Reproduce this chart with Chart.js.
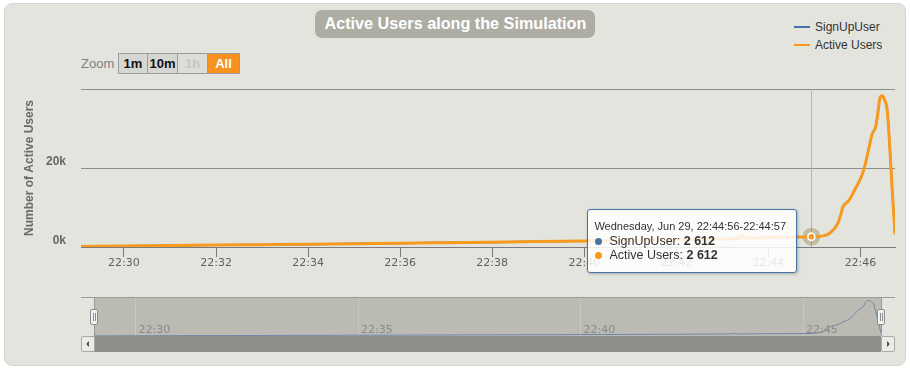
<!DOCTYPE html>
<html>
<head>
<meta charset="utf-8">
<title>Active Users along the Simulation</title>
<script src="https://cdn.jsdelivr.net/npm/chart.js@4.4.1/dist/chart.umd.min.js"></script>
<style>
  body { margin:0; width:910px; height:371px; overflow:hidden; background:#fff; font-family:"Liberation Sans", Arial, sans-serif; }
  #frame { position:absolute; left:4px; top:3px; width:900px; height:361px; background:#e4e4de; border:1px solid #d6d6d0; border-radius:8px; }
  #title { position:absolute; left:315px; top:10px; width:280px; height:28px; line-height:28px; background:#adada4; border-radius:7px;
           color:#fff; text-align:center; white-space:nowrap; overflow:hidden; }
  #title span { display:inline-block; font-family:"Liberation Sans", Arial, sans-serif; font-weight:bold; font-size:17px; transform-origin:50% 50%; }
  .leg { position:absolute; left:794px; font-size:12px; color:#333; height:14px; line-height:14px; }
  .leg span { display:inline-block; width:16px; height:2px; vertical-align:middle; margin-right:5px; margin-top:-2px; }
  #zoomLabel { position:absolute; left:81px; top:56px; font-size:13px; color:#808080; }
  .btn { position:absolute; top:53px; height:19px; line-height:19px; border:1px solid #9c9c9c; background:#d6d6d2; text-align:center;
         font-size:13px; font-weight:bold; color:#111; box-sizing:content-box; }
  canvas { position:absolute; }
  #tip { position:absolute; width:208px; height:62px; border:1px solid #4572a7; border-radius:3px; background:rgba(255,255,255,0.85);
         box-shadow:1px 1px 3px rgba(0,0,0,0.25); color:#333; opacity:0; }
  #tip .t { position:absolute; left:6px; top:9px; font-size:11px; line-height:14px; white-space:nowrap; }
  #tip .r { position:absolute; left:21px; font-size:12.5px; line-height:14px; white-space:nowrap; }
  #tip .d { position:absolute; left:-14px; top:4px; width:7px; height:7px; border-radius:50%; }
  .line { position:absolute; background:#9a9a9a; }
  #scroll { position:absolute; left:94px; top:336px; width:787px; height:16px; background:#8f8f8a; }
  .sbtn { position:absolute; top:336px; width:12px; height:14px; background:#ebebe7; border:1px solid #a8a8a4; border-radius:2px; }
  .sbtn i { position:absolute; top:4px; width:0; height:0; border-top:3px solid transparent; border-bottom:3px solid transparent; }
  .handle { position:absolute; top:309px; width:6px; height:14px; background:#f2f2f2; border:1px solid #8c8c8c; border-radius:2px; }
  .handle i { position:absolute; top:3px; width:1px; height:8px; background:#8c8c8c; }
</style>
</head>
<body>
<div id="frame"></div>
<div id="title"><span id="titleText">Active Users along the Simulation</span></div>
<div id="legend"></div>
<div id="zoomLabel">Zoom</div>
<div class="btn" style="left:118px;width:28px">1m</div>
<div class="btn" style="left:147px;width:29px">10m</div>
<div class="btn" style="left:177px;width:29px;color:#c6c6c2;background:#dcdcd8">1h</div>
<div class="btn" style="left:207px;width:31px;background:#f7921e;color:#fff">All</div>

<canvas id="main" width="910" height="290" style="left:0;top:0"></canvas>
<div id="tip"></div>

<div class="line" style="left:81px;top:297px;width:814px;height:1px"></div>
<canvas id="nav" width="787" height="38" style="left:94px;top:298px;background:#bbbbb4"></canvas>
<div class="line" style="left:94px;top:297px;width:1px;height:39px"></div>
<div class="line" style="left:881px;top:297px;width:1px;height:39px"></div>
<div id="scroll"></div>
<div class="sbtn" style="left:81px"><i style="left:4px;border-right:3px solid #555"></i></div>
<div class="sbtn" style="left:881px"><i style="left:5px;border-left:3px solid #555"></i></div>
<div class="handle" style="left:90px"><i style="left:2px"></i><i style="left:4px"></i></div>
<div class="handle" style="left:877px"><i style="left:2px"></i><i style="left:4px"></i></div>

<script>
// --- data ---
var times = ['22:29:04','22:30:00','22:31:00','22:32:00','22:33:00','22:34:00','22:35:00','22:36:00',
             '22:37:00','22:38:00','22:39:00','22:40:00','22:41:00','22:42:00','22:43:00','22:43:22',
             '22:43:26','22:43:30','22:44:00','22:44:30','22:44:56','22:45:12','22:45:21','22:45:30',
             '22:45:34','22:45:37','22:45:45','22:45:51','22:45:58','22:46:02','22:46:06','22:46:11',
             '22:46:15','22:46:20','22:46:23','22:46:25','22:46:28','22:46:31','22:46:35','22:46:38',
             '22:46:41','22:46:45'];
var signUpUsers = [130,250,370,480,600,720,850,970,1100,1230,1370,1520,1700,1900,2100,2200,
                   2900,2250,2380,2500,2612,2820,3670,5810,7950,10080,11800,13920,16490,18200,20770,25050,
                   28460,30590,34440,37430,38280,37430,34440,25900,15640,3250];
var activeUsers = [130,250,370,480,600,720,850,970,1100,1230,1370,1520,1700,1900,2100,2200,
                   2900,2250,2380,2500,2612,2820,3670,5810,7950,10080,11800,13920,16490,18200,20770,25050,
                   28460,30590,34440,37430,38280,37430,34440,25900,15640,3250];
var seriesNames = ['SignUpUser', 'Active Users'];
var seriesColors = ['#4572a7', '#f79a1e'];
var mainTicks = ['22:30','22:32','22:34','22:36','22:38','22:40','22:42','22:44','22:46'];
var navTicks = ['22:30','22:35','22:40','22:45'];
var yTicks = [0, 20000, 40000];
var dateLabel = 'Wednesday, Jun 29';
var focusTime = '22:44:56';

function toSec(t) {
  var p = t.split(':').map(Number);
  return p[0] * 3600 + p[1] * 60 + (p[2] || 0);
}
function pad(n) { return (n < 10 ? '0' : '') + n; }
function hm(s) { return pad(Math.floor(s / 3600)) + ':' + pad(Math.floor(s % 3600 / 60)); }
function hms(s) { return hm(s) + ':' + pad(s % 60); }
function fmt(v) { return String(v).replace(/\B(?=(\d{3})+(?!\d))/g, ' '); }
function pts(vals) { return times.map(function (t, i) { return {x: toSec(t), y: vals[i]}; }); }

var xMin = toSec(times[0]), xMax = toSec(times[times.length - 1]);

// squeeze the title to the narrow face of the original
var tt = document.getElementById('titleText');
tt.style.transform = 'scaleX(' + (262 / tt.offsetWidth) + ')';

// legend
var legend = document.getElementById('legend');
seriesNames.forEach(function (n, i) {
  var d = document.createElement('div');
  d.className = 'leg';
  d.style.top = (20 + i * 18) + 'px';
  d.innerHTML = '<span style="background:' + seriesColors[i] + '"></span>' + n;
  legend.appendChild(d);
});

function drawTip(context) {
  var chart = context.chart, tooltip = context.tooltip, el = document.getElementById('tip');
  if (tooltip.opacity === 0 || !tooltip.dataPoints || !tooltip.dataPoints.length) { el.style.opacity = 0; return; }
  var items = tooltip.dataPoints.slice().sort(function (a, b) { return a.datasetIndex - b.datasetIndex; });
  var s = items[0].parsed.x;
  var html = '<div class="t">' + dateLabel + ', ' + hms(s) + '-' + hms(s + 1) + '</div>';
  items.forEach(function (it, k) {
    html += '<div class="r" style="top:' + (24 + k * 14) + 'px"><span class="d" style="background:' +
      it.dataset.borderColor + '"></span>' + it.dataset.label + ': <b>' + fmt(it.parsed.y) + '</b></div>';
  });
  el.innerHTML = html;
  var pt = items[0].element;
  el.style.left = (chart.canvas.offsetLeft + pt.x - 224) + 'px';
  el.style.top = (chart.canvas.offsetTop + pt.y - 28) + 'px';
  el.style.opacity = 1;
}

// crosshair + halo under the series
var crosshair = {
  id: 'crosshair',
  beforeDatasetsDraw: function (chart) {
    var act = chart.getActiveElements();
    if (!act.length) return;
    var el = act[act.length - 1].element, ctx = chart.ctx, a = chart.chartArea;
    ctx.save();
    ctx.strokeStyle = '#b4b4b4';
    ctx.lineWidth = 1;
    ctx.beginPath();
    ctx.moveTo(Math.round(el.x) + 0.5, a.top);
    ctx.lineTo(Math.round(el.x) + 0.5, a.bottom);
    ctx.stroke();
    ctx.fillStyle = 'rgba(150,125,70,0.4)';
    ctx.beginPath();
    ctx.arc(el.x, el.y, 9, 0, Math.PI * 2);
    ctx.fill();
    ctx.restore();
  }
};

// navigator time labels sit inside the plot, right of each grid line
var navLabels = {
  id: 'navLabels',
  afterDraw: function (chart) {
    var sc = chart.scales.x, ctx = chart.ctx;
    ctx.save();
    ctx.font = '11px "DejaVu Sans"';
    ctx.fillStyle = '#8a8a8a';
    ctx.textBaseline = 'alphabetic';
    ctx.textAlign = 'left';
    sc.ticks.forEach(function (t) {
      ctx.fillText(hm(t.value), sc.getPixelForValue(t.value) + 3, chart.chartArea.bottom - 3);
    });
    ctx.restore();
  }
};

function series(i, order, width) {
  return {
    label: seriesNames[i],
    data: pts(i === 0 ? signUpUsers : activeUsers),
    borderColor: seriesColors[i],
    backgroundColor: seriesColors[i],
    borderWidth: width,
    pointRadius: 0,
    pointHoverRadius: 3.5,
    pointHoverBorderWidth: 1.5,
    pointHoverBorderColor: '#fff',
    pointHoverBackgroundColor: seriesColors[i],
    cubicInterpolationMode: 'monotone',
    order: order
  };
}

var mainChart = new Chart(document.getElementById('main'), {
  type: 'line',
  data: { datasets: [series(0, 2, 2), series(1, 1, 3)] },
  options: {
    responsive: false,
    animation: false,
    events: [],
    layout: { padding: { top: 89, right: 15, left: 0, bottom: 0 } },
    plugins: {
      legend: { display: false },
      tooltip: { enabled: false, mode: 'index', intersect: false, external: drawTip }
    },
    scales: {
      x: {
        type: 'linear', min: xMin, max: xMax,
        afterBuildTicks: function (s) { s.ticks = mainTicks.map(function (t) { return {value: toSec(t)}; }); },
        afterFit: function (s) { s.height = 43; },
        ticks: { callback: function (v) { return hm(v); }, color: '#606060', font: { family: 'DejaVu Sans', size: 11 },
                 padding: 0, maxRotation: 0, autoSkip: false },
        grid: { drawOnChartArea: false, drawTicks: true, tickLength: 10, color: '#7a7a7a' },
        border: { display: true, color: '#7a7a7a', width: 1 }
      },
      y: {
        min: 0, max: 40000,
        afterBuildTicks: function (s) { s.ticks = yTicks.map(function (v) { return {value: v}; }); },
        afterFit: function (s) { s.width = 81; },
        ticks: { callback: function (v) { return v === 40000 ? '' : (v / 1000) + 'k'; }, color: '#666',
                 font: { family: 'Liberation Sans', size: 12, weight: 'bold' }, padding: 15, labelOffset: -6 },
        grid: { color: '#8c8c8c', drawTicks: false },
        border: { display: false },
        title: { display: true, text: 'Number of Active Users', color: '#6a6a6a',
                 font: { family: 'Liberation Sans', size: 12, weight: 'bold' }, padding: { top: 22, bottom: 0 } }
      }
    }
  },
  plugins: [crosshair]
});

var fi = times.indexOf(focusTime);
var act = [{datasetIndex: 0, index: fi}, {datasetIndex: 1, index: fi}];
mainChart.setActiveElements(act);
var fp = mainChart.getDatasetMeta(1).data[fi];
mainChart.tooltip.setActiveElements(act, {x: fp.x, y: fp.y});
mainChart.update();

var navChart = new Chart(document.getElementById('nav'), {
  type: 'line',
  data: { datasets: [{ data: pts(signUpUsers), borderColor: '#6f86a6', borderWidth: 1, pointRadius: 0,
                       cubicInterpolationMode: 'monotone' }] },
  options: {
    responsive: false,
    animation: false,
    events: [],
    layout: { padding: 0 },
    plugins: { legend: { display: false }, tooltip: { enabled: false } },
    scales: {
      x: {
        type: 'linear', min: xMin, max: xMax,
        afterBuildTicks: function (s) { s.ticks = navTicks.map(function (t) { return {value: toSec(t)}; }); },
        afterFit: function (s) { s.height = 0; },
        ticks: { display: false },
        grid: { drawTicks: false, color: '#c8c8c0' },
        border: { display: false }
      },
      y: { display: false, min: 0, max: 41000 }
    }
  },
  plugins: [navLabels]
});
</script>
</body>
</html>
